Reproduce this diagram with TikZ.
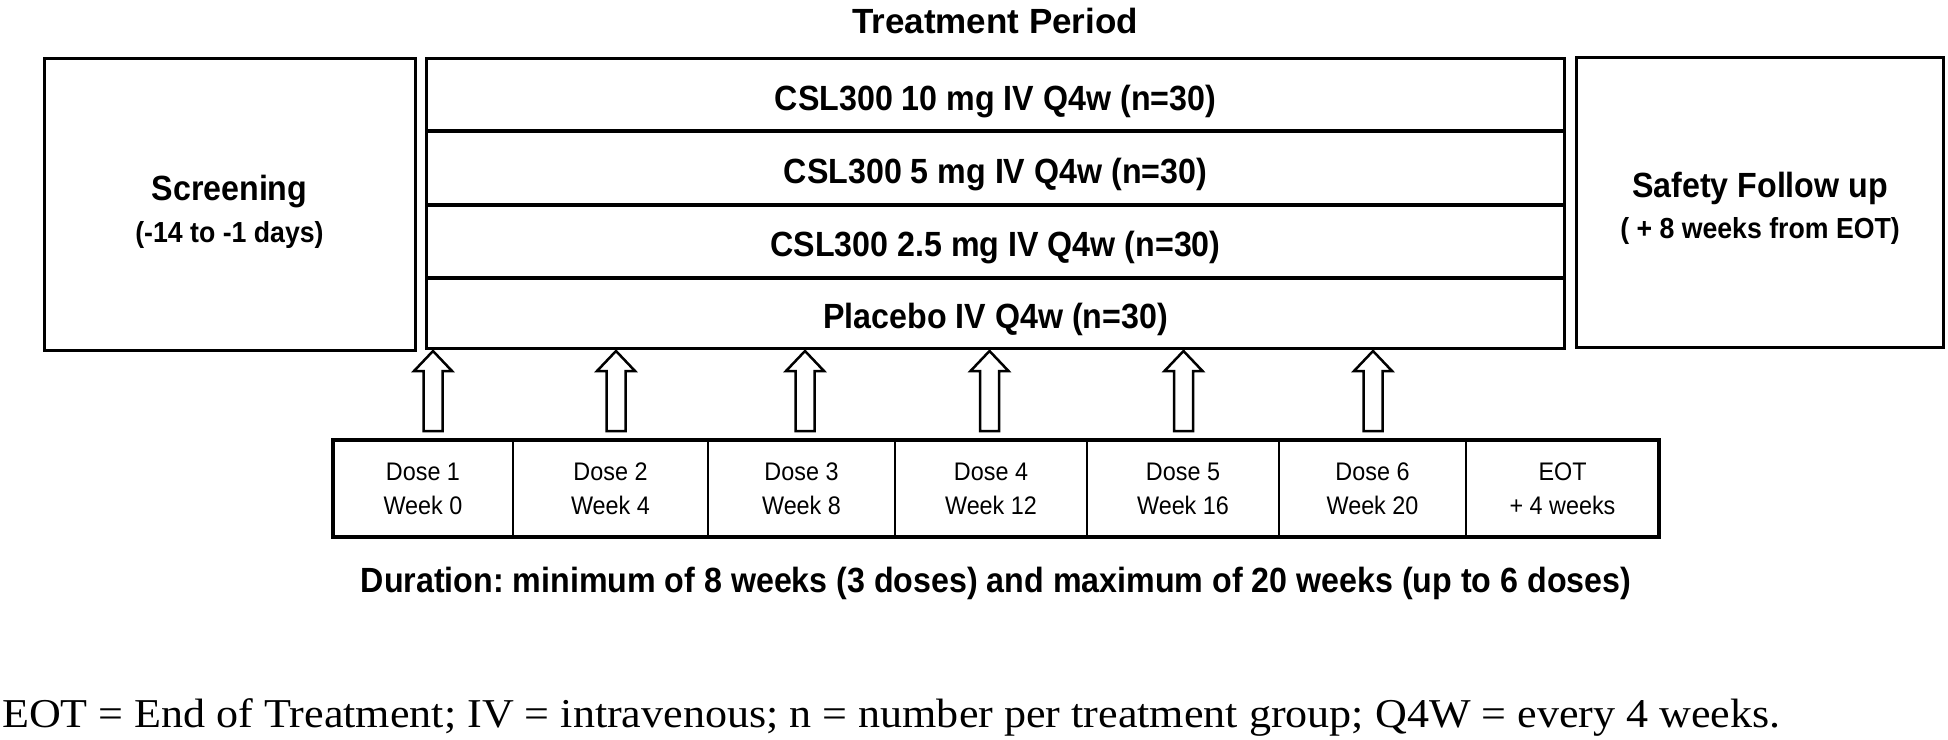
\documentclass[tikz,border=0pt]{standalone}
\usepackage{fontspec}
\setmainfont{Liberation Sans}
\newfontfamily\condsans[FakeStretch=0.92]{Liberation Sans}
\newfontfamily\plainsans{Liberation Sans}
\newfontfamily\notesf[FakeStretch=1.075]{Liberation Serif}
\usetikzlibrary{calc}
\frenchspacing

\tikzset{
  frame/.style={draw=black, line width=3pt},
  sepline/.style={draw=black, line width=4.5pt},
  bigtxt/.style={font=\condsans\bfseries\fontsize{35}{42}\selectfont, inner sep=0pt},
  subtxt/.style={font=\condsans\bfseries\fontsize{29}{35}\selectfont, inner sep=0pt},
  dosetxt/.style={font=\condsans\fontsize{25.4}{34}\selectfont, align=center, inner sep=0pt},
  rowbox/.style={minimum width=1137pt, inner sep=0pt, bigtxt, text height=30pt, text depth=0pt},
  cell/.style={minimum height=97pt, inner sep=0pt, dosetxt},
  doseArrow/.pic={\draw[line width=2.5pt, fill=white, line join=miter]
    (0,0) -- (19,20) -- (9.5,20) -- (9.5,80) -- (-9.5,80) -- (-9.5,20) -- (-19,20) -- cycle;}
}

\begin{document}
\begin{tikzpicture}[x=1pt, y=-1pt]
\useasboundingbox (0,0) rectangle (1948,739);

% title
\node[anchor=base, inner sep=0pt, font=\plainsans\bfseries\fontsize{35}{42}\selectfont] (title) at (995,33) {Treatment Period};

% screening
\node[frame, minimum width=371pt, minimum height=292pt, inner sep=0pt] (scr) at (229.5,204.5) {};
\node[bigtxt, anchor=base] (scrA) at (229.5,200) {Screening};
\node[subtxt, anchor=base] (scrB) at (229.5,242) {(-14 to -1 days)};

% treatment rows
\node[rowbox, minimum height=72pt] (r1) at (995.5,95) {CSL300 10 mg IV Q4w (n=30)};
\node[rowbox, minimum height=74pt] (r2) at (995.5,168) {CSL300 5 mg IV Q4w (n=30)};
\node[rowbox, minimum height=73pt] (r3) at (995.5,241.5) {CSL300 2.5 mg IV Q4w (n=30)};
\node[rowbox, minimum height=70pt] (r4) at (995.5,313) {Placebo IV Q4w (n=30)};
\draw[frame] (r1.north west) rectangle (r4.south east);
\draw[sepline] (r1.south west) -- (r1.south east);
\draw[sepline] (r2.south west) -- (r2.south east);
\draw[sepline] (r3.south west) -- (r3.south east);

% safety follow up
\node[frame, minimum width=367pt, minimum height=290pt, inner sep=0pt] (saf) at (1760,202) {};
\node[bigtxt, anchor=base] (safA) at (1760,197) {Safety Follow up};
\node[subtxt, anchor=base] (safB) at (1760,238) {( + 8 weeks from EOT)};

% dose cells
\node[cell, minimum width=180pt] (c1) at (423,488.5) {Dose 1\\Week 0};
\node[cell, minimum width=195pt] (c2) at (610.5,488.5) {Dose 2\\Week 4};
\node[cell, minimum width=187pt] (c3) at (801.5,488.5) {Dose 3\\Week 8};
\node[cell, minimum width=192pt] (c4) at (991,488.5) {Dose 4\\Week 12};
\node[cell, minimum width=192pt] (c5) at (1183,488.5) {Dose 5\\Week 16};
\node[cell, minimum width=187pt] (c6) at (1372.5,488.5) {Dose 6\\Week 20};
\node[cell, minimum width=193pt] (c7) at (1562.5,488.5) {EOT\\+ 4 weeks};
\draw[line width=3.5pt] (c1.north west) rectangle (c7.south east);
\foreach \c in {c1,c2,c3,c4,c5,c6}{
  \draw[line width=2.5pt] (\c.north east) -- (\c.south east);
}

% dose arrows
\coordinate (a1) at (433,351);
\coordinate (a2) at (616,351);
\coordinate (a3) at (805,351);
\coordinate (a4) at (989.5,351);
\coordinate (a5) at (1183.5,351);
\coordinate (a6) at (1373,351);
\foreach \a in {a1,a2,a3,a4,a5,a6}{ \pic at (\a) {doseArrow}; }

% duration
\node[bigtxt, anchor=base] (dur) at (996,592) {Duration: minimum of 8 weeks (3 doses) and maximum of 20 weeks (up to 6 doses)};

% footnote
\node[anchor=base west, inner sep=0pt, font=\notesf\fontsize{41}{48}\selectfont] (fn) at (2,727) {EOT = End of Treatment; IV = intravenous; n = number per treatment group; Q4W = every 4 weeks.};
\end{tikzpicture}
\end{document}
